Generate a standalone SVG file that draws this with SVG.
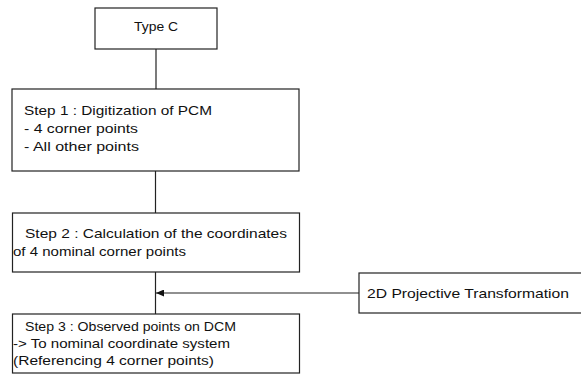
<svg xmlns="http://www.w3.org/2000/svg" width="581" height="374" viewBox="0 0 581 374">
<defs>
<style>
.box{fill:#fff;stroke:#222;stroke-width:1.2}
.ln{fill:none;stroke:#222;stroke-width:1.2}
text{font-family:"Liberation Sans",Arial,sans-serif;font-size:13px;fill:#111}
</style>
<marker id="ah" markerWidth="8" markerHeight="7" refX="8" refY="3.5" orient="auto" markerUnits="userSpaceOnUse">
<path d="M0,0 L8,3.5 L0,7 Z" fill="#111"/>
</marker>
</defs>
<rect width="581" height="374" fill="#fff"/>
<g id="connectors">
<line class="ln" x1="156" y1="49" x2="156" y2="89"/>
<line class="ln" x1="155.5" y1="171" x2="155.5" y2="213"/>
<line class="ln" x1="155.5" y1="272" x2="155.5" y2="314"/>
<line class="ln" x1="359" y1="293" x2="156" y2="293" marker-end="url(#ah)"/>
</g>
<g id="typeC">
<rect class="box" x="95" y="8" width="122" height="41"/>
<text x="134" y="31" textLength="44" lengthAdjust="spacingAndGlyphs">Type C</text>
</g>
<g id="step1">
<rect class="box" x="12" y="89" width="287" height="82"/>
<text x="24" y="115" textLength="188" lengthAdjust="spacingAndGlyphs">Step 1 : Digitization of PCM</text>
<text x="24" y="133" textLength="114" lengthAdjust="spacingAndGlyphs">- 4 corner points</text>
<text x="24" y="151" textLength="115" lengthAdjust="spacingAndGlyphs">- All other points</text>
</g>
<g id="step2">
<rect class="box" x="12.5" y="213" width="287" height="59"/>
<text x="25" y="238" textLength="262" lengthAdjust="spacingAndGlyphs">Step 2 : Calculation of the coordinates</text>
<text x="13" y="256" textLength="173" lengthAdjust="spacingAndGlyphs">of 4 nominal corner points</text>
</g>
<g id="step3">
<rect class="box" x="12.5" y="314" width="287" height="59"/>
<text x="25" y="331" textLength="211" lengthAdjust="spacingAndGlyphs">Step 3 : Observed points on DCM</text>
<text x="13" y="348" textLength="217" lengthAdjust="spacingAndGlyphs">-&gt; To nominal coordinate system</text>
<text x="13" y="365" textLength="201" lengthAdjust="spacingAndGlyphs">(Referencing 4 corner points)</text>
</g>
<g id="projective">
<rect class="box" x="359" y="273" width="230" height="40"/>
<text x="367" y="298" textLength="202" lengthAdjust="spacingAndGlyphs">2D Projective Transformation</text>
</g>
</svg>
